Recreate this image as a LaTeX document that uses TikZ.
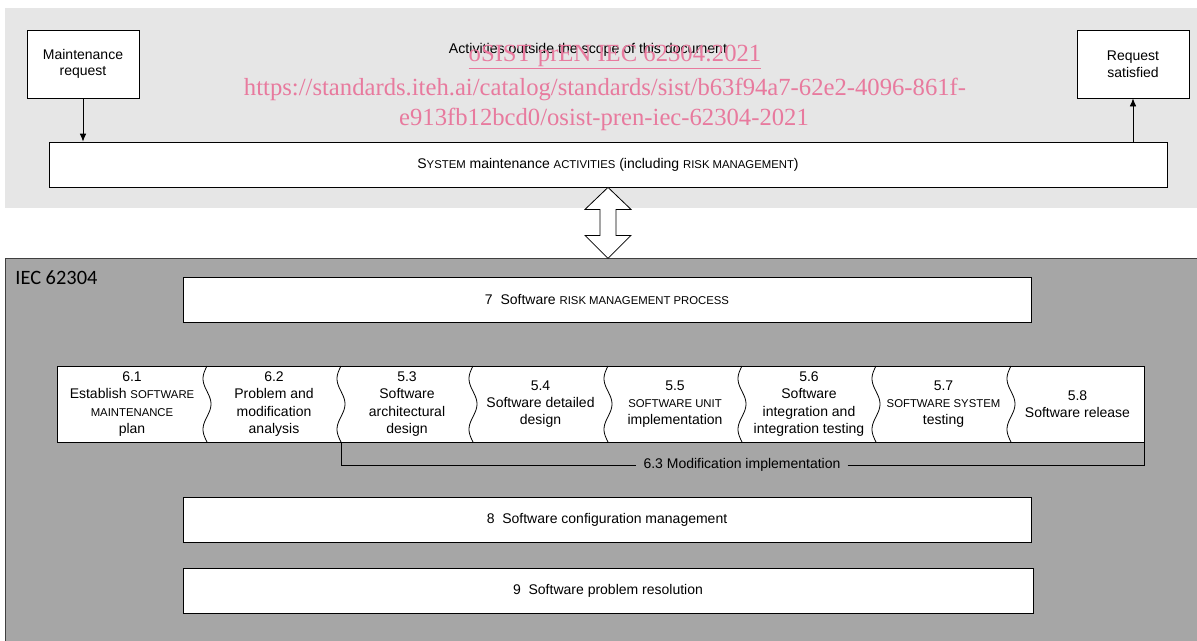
\documentclass[tikz,border=0pt]{standalone}
\usepackage{fontspec}
\setmainfont{Liberation Sans}
\newfontfamily\wmfont{Liberation Serif}
\newfontfamily\calfont{Carlito}
\usetikzlibrary{positioning,arrows.meta}
\definecolor{outerpanel}{RGB}{230,230,230}
\definecolor{innerpanel}{RGB}{166,166,166}
\definecolor{wmpink}{RGB}{232,122,158}
\newcommand{\smcap}[1]{{\fontsize{8.5}{13}\selectfont #1}}
\tikzset{
  box/.style={draw, fill=white, inner sep=0pt, align=center, font=\fontsize{10.5}{12.5}\selectfont},
  steptext/.style={align=center, inner sep=0pt, font=\fontsize{10.5}{13}\selectfont},
  wm/.style={text=wmpink, inner sep=0pt, font=\wmfont\fontsize{18.5}{21}\selectfont}
}
\begin{document}
\begin{tikzpicture}[x=0.75pt, y=-0.75pt, >={Latex[length=6pt,width=5pt]}, line width=0.6pt]
\useasboundingbox (0,0) rectangle (1197,640);

% outside the scope
\fill[outerpanel] (5,8) rectangle (1197,208);
\node[box, minimum width=84pt, minimum height=51pt] (maint) at (83,64) {Maintenance\\request};
\node[box, minimum width=84pt, minimum height=51pt] (satis) at (1133,64) {Request\\satisfied};
\node[font=\fontsize{10.6}{12}\selectfont] (outside) at (588,50) {Activities outside the scope of this document};
\node[box, minimum width=838.5pt, minimum height=33.75pt] (sys) at (608,164.5)
    {S\smcap{YSTEM} maintenance \smcap{ACTIVITIES} (including \smcap{RISK MANAGEMENT})};
\draw[->] (maint) -- (maint |- sys.north);
\draw[->] (satis |- sys.north) -- (satis);

% IEC 62304
\filldraw[fill=innerpanel, draw=black!75] (5,258) rectangle (1199,642);
\node[anchor=base west, inner sep=0pt, font=\calfont\fontsize{15.3}{17}\selectfont] (iec) at (15,284) {IEC 62304};
\draw[fill=white] (sys.south) -- ++(23,22) -- ++(-15,0) -- ++(0,26) -- ++(15,0) -- ++(-23,23)
    -- ++(-23,-23) -- ++(15,0) -- ++(0,-26) -- ++(-15,0) -- cycle;

\node[box, minimum width=636pt, minimum height=33.75pt] (risk) at (607,299.5) {7\ \ Software \smcap{RISK MANAGEMENT PROCESS}};
\node[box, minimum width=636pt, minimum height=33.75pt] (config) at (607,519.5) {8\ \ Software configuration management};
\node[box, minimum width=637.5pt, minimum height=33.75pt] (problem) at (608,590.5) {9\ \ Software problem resolution};

% process steps
\node[box, minimum width=815.25pt, minimum height=57pt] (row) at (600.5,404) {};
\foreach \bx in {207,341,473,608,742,876,1011}
    \draw plot[variable=\t, domain=0:76, samples=40, smooth] ({\bx-4*sin(7.105*\t)},{366+\t});
\foreach \x/\txt [count=\i] in {
    132/{6.1\\Establish \smcap{SOFTWARE}\\\smcap{MAINTENANCE}\\plan},
    274/{6.2\\Problem and\\modification\\analysis},
    407/{5.3\\Software\\architectural\\design},
    540.5/{5.4\\Software detailed\\design},
    675/{5.5\\\smcap{SOFTWARE UNIT}\\implementation},
    809/{5.6\\Software\\integration and\\integration testing},
    943.5/{5.7\\\smcap{SOFTWARE SYSTEM}\\testing},
    1077.5/{5.8\\Software release}}
    \node[steptext] (step\i) at (\x,404) {\txt};

\coordinate (modleft) at (341,442);
\node[fill=innerpanel, inner xsep=5pt, inner ysep=1pt, font=\fontsize{10.5}{12}\selectfont] (modlabel) at (742,465) {6.3 Modification implementation};
\draw (modleft) |- (modlabel.west);
\draw (modlabel.east) -| (row.south east);

% watermark
\node[wm] (wm1) at (615,57) {\underline{oSIST prEN IEC 62304:2021}};
\node[wm] (wm2) at (605,89) {https://standards.iteh.ai/catalog/standards/sist/b63f94a7-62e2-4096-861f-};
\node[wm] (wm3) at (604,119) {e913fb12bcd0/osist-pren-iec-62304-2021};
\end{tikzpicture}
\end{document}
